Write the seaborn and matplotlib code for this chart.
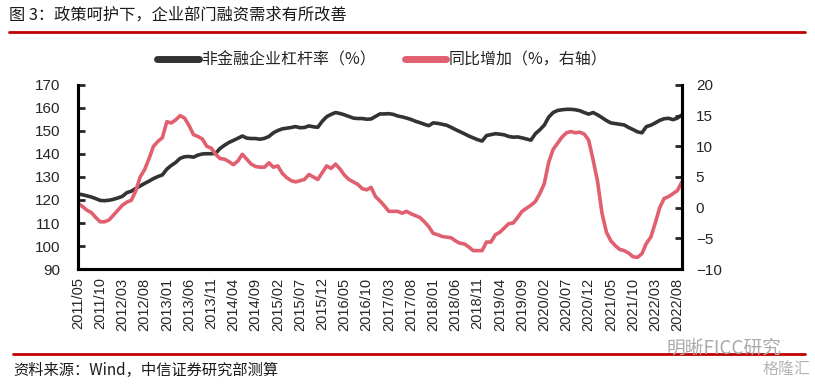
import numpy as np
import pandas as pd
import matplotlib
matplotlib.use("Agg")
import matplotlib.pyplot as plt
import seaborn as sns

# 月度数据：2011/05 - 2022/09
start_month = "2011-05"
leverage = [
    122.6, 122.3, 121.8, 121.3, 120.6, 119.8, 119.7, 119.9, 120.3, 120.9,
    121.6, 123.2, 123.8, 125.0, 126.1, 127.2, 128.2, 129.3, 130.2, 130.9,
    133.4, 135.0, 136.3, 138.1, 138.8, 138.9, 138.6, 139.5, 140.0, 140.1,
    140.1, 140.3, 142.4, 143.8, 145.0, 145.9, 146.8, 147.8, 146.9, 146.7,
    146.7, 146.4, 146.8, 147.6, 149.2, 150.2, 150.9, 151.2, 151.5, 151.9,
    151.4, 151.5, 152.2, 151.8, 151.6, 154.2, 156.2, 157.2, 158.0, 157.6,
    157.0, 156.3, 155.6, 155.4, 155.4, 155.1, 155.2, 156.3, 157.4, 157.4,
    157.5, 157.2, 156.5, 156.1, 155.6, 155.0, 154.2, 153.6, 152.9, 152.3,
    153.5, 153.3, 152.9, 152.5, 151.6, 150.6, 149.7, 148.8, 147.8, 147.0,
    146.2, 145.6, 148.0, 148.4, 148.8, 148.6, 148.3, 147.6, 147.3, 147.4,
    147.0, 146.5, 146.0, 148.8, 150.5, 152.5, 156.0, 158.0, 158.9, 159.2,
    159.4, 159.4, 159.2, 158.8, 158.0, 157.3, 158.0, 157.0, 155.8, 154.5,
    153.5, 153.2, 152.9, 152.6, 151.5, 150.6, 149.6, 149.2, 151.9, 152.5,
    153.5, 154.6, 155.3, 155.5, 154.9, 155.6, 157.0,
]
yoy_change = [
    0.7, 0.2, -0.4, -0.8, -1.6, -2.3, -2.3, -2.0, -1.2, -0.4,
    0.4, 0.9, 1.2, 2.7, 5.0, 6.2, 8.0, 10.0, 10.8, 11.4,
    14.0, 13.8, 14.3, 15.0, 14.6, 13.4, 11.9, 11.6, 11.2, 10.0,
    9.7, 8.7, 8.0, 7.9, 7.5, 7.0, 7.6, 8.7, 7.9, 7.1,
    6.7, 6.6, 6.6, 7.3, 6.6, 6.8, 5.6, 4.9, 4.4, 4.2,
    4.4, 4.6, 5.4, 5.0, 4.6, 5.7, 6.8, 6.4, 7.1, 6.3,
    5.3, 4.6, 4.2, 3.8, 3.1, 2.9, 3.3, 1.8, 1.1, 0.3,
    -0.6, -0.6, -0.6, -0.9, -0.6, -1.0, -1.3, -1.6, -2.3, -3.1,
    -4.2, -4.4, -4.7, -4.8, -4.9, -5.4, -5.8, -5.9, -6.4, -7.0,
    -7.0, -7.0, -5.6, -5.6, -4.4, -4.0, -3.3, -2.6, -2.5, -1.6,
    -0.6, -0.1, 0.4, 1.0, 2.3, 3.9, 7.4, 9.5, 10.5, 11.5,
    12.2, 12.4, 12.2, 12.3, 12.0, 11.0, 7.8, 4.3, -0.9, -4.0,
    -5.4, -6.2, -6.8, -7.0, -7.4, -8.0, -8.1, -7.5, -5.8, -4.8,
    -2.5, 0.0, 1.5, 1.8, 2.3, 2.8, 4.2,
]
left_ticks = [90, 100, 110, 120, 130, 140, 150, 160, 170]
right_ticks = [-10, -5, 0, 5, 10, 15, 20]

months = pd.date_range(start_month, periods=len(leverage), freq="MS")
df = pd.DataFrame({"idx": np.arange(len(months)), "leverage": leverage, "yoy": yoy_change})
tick_idx = df["idx"][::5]
tick_labels = [m.strftime("%Y/%m") for m in months[::5]]

sns.set_style("white")
plt.rcParams["font.family"] = ["Liberation Sans", "Noto Sans CJK SC", "DejaVu Sans"]
cjk = ["Noto Sans CJK SC", "DejaVu Sans"]

black = "#333333"
pink = "#E0606F"
red = "#C00000"

fig = plt.figure(figsize=(8.15, 3.86), dpi=100)
ax = fig.add_axes([0.0957, 0.303, 0.741, 0.477])
ax2 = ax.twinx()

sns.lineplot(data=df, x="idx", y="leverage", ax=ax, color=black, linewidth=2.6, label="非金融企业杠杆率（%）", legend=False)
sns.lineplot(data=df, x="idx", y="yoy", ax=ax2, color=pink, linewidth=2.6, label="同比增加（%，右轴）", legend=False)

ax.set_xlim(0, len(months) - 1)
ax.set_ylim(90, 170)
ax2.set_ylim(-10, 20)
ax.set_yticks(left_ticks)
ax2.set_yticks(right_ticks)
ax.set_xticks(tick_idx)
ax.set_xticklabels(tick_labels, rotation=90, fontsize=10.5)
ax.set_xlabel("")
ax.set_ylabel("")
ax2.set_ylabel("")

for a in (ax, ax2):
    for side in ("left", "right", "bottom"):
        a.spines[side].set_linewidth(2.2)
        a.spines[side].set_color("black")
    a.spines["top"].set_visible(False)
ax.tick_params(axis="y", direction="in", length=5, width=2, labelsize=11, pad=13)
ax2.tick_params(axis="y", direction="in", length=5, width=2, labelsize=11, pad=10)
ax.tick_params(axis="x", direction="out", length=4, width=2, labelsize=10.5, pad=2)

# 图例
h1, l1 = ax.get_legend_handles_labels()
h2, l2 = ax2.get_legend_handles_labels()
leg = fig.legend(h1 + h2, l1 + l2, loc="center left", bbox_to_anchor=(0.183, 0.845), ncol=2,
                 frameon=False, borderpad=0, handlelength=2.6, columnspacing=1.8, handletextpad=0.15,
                 prop={"family": cjk, "size": 11.5})
for line in leg.get_lines():
    line.set_linewidth(5)

# 标题与红线
fig.text(0.011, 0.962, "图 3：政策呵护下，企业部门融资需求有所改善", fontsize=11.7,
         family=cjk, color="#1a1a1a", va="center")
fig.add_artist(plt.Line2D([0.011, 0.988], [0.918, 0.918], color=red, linewidth=2))

# 底部来源
fig.add_artist(plt.Line2D([0.016, 0.988], [0.082, 0.082], color=red, linewidth=2))
fig.text(0.016, 0.04, "资料来源：Wind，中信证券研究部测算", fontsize=11,
         family=cjk, color="#1a1a1a", va="center")
fig.text(0.818, 0.098, "明晰FICC研究", fontsize=13.5, family=cjk, color="#aaaaaa", va="center")
fig.text(0.935, 0.044, "格隆汇", fontsize=11.5, family=cjk, color="#b5b5b5", va="center")

fig.savefig("out.png", dpi=100)
